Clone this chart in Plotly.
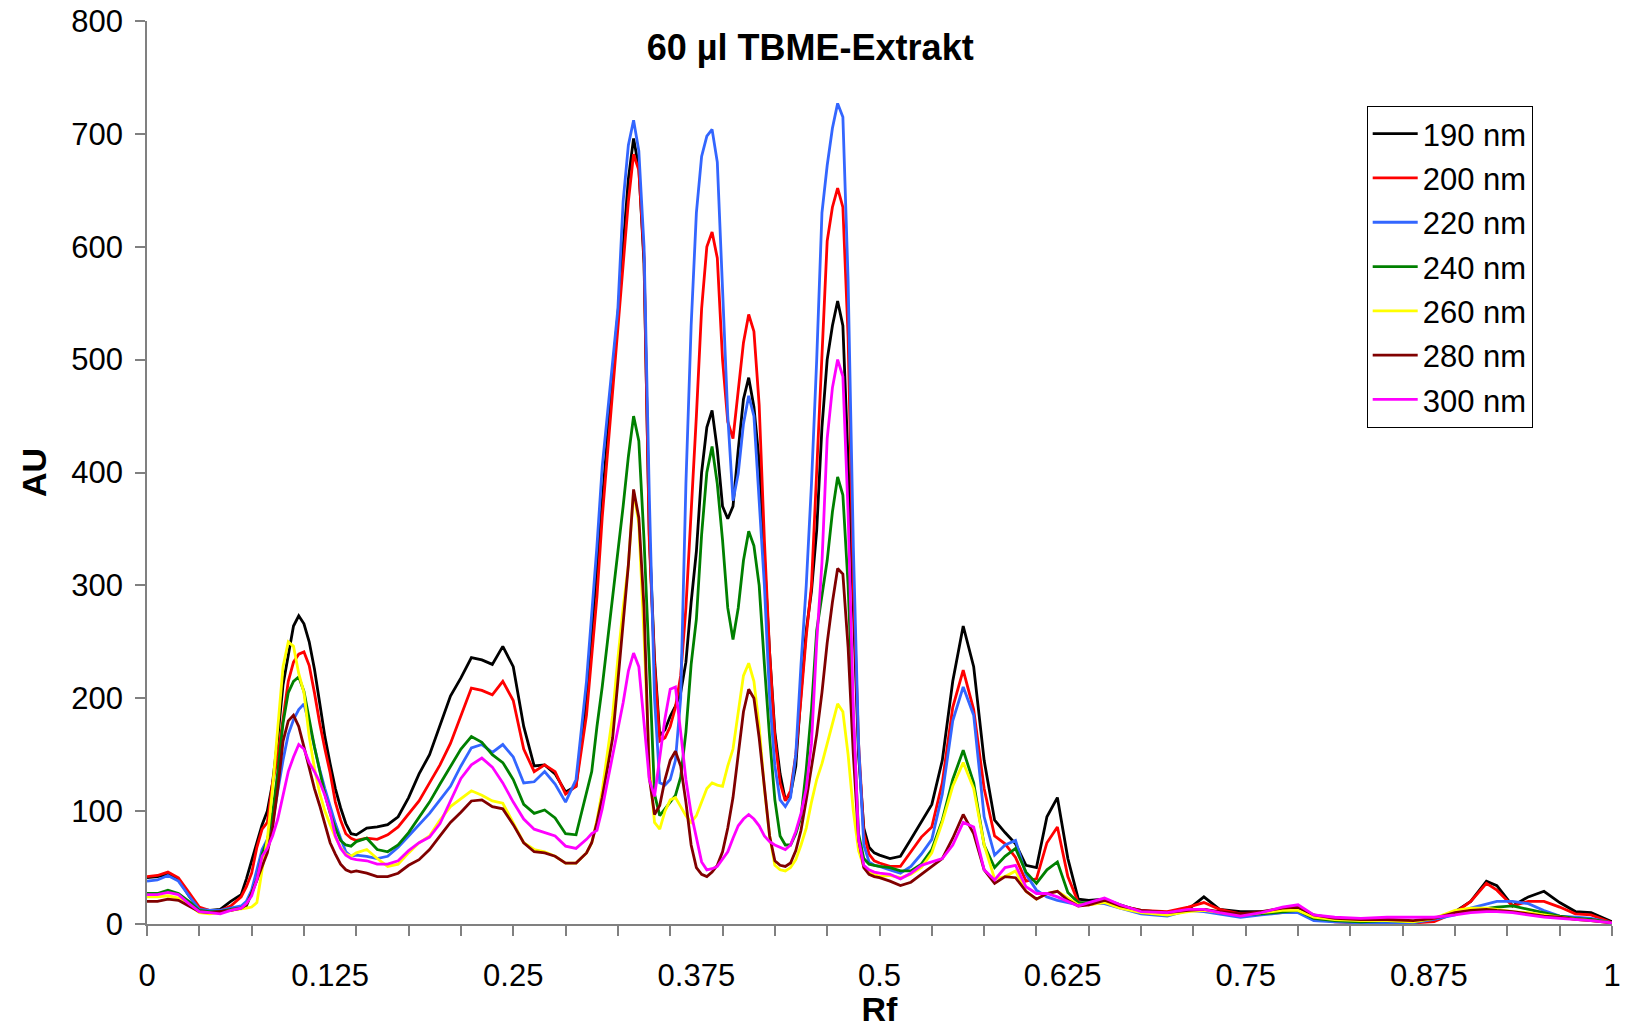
import plotly.graph_objects as go

# Scan point index along the track (281 scan points, 0..280 -> Rf 0..1)
scan_idx = ([0, 2, 4, 6, 8, 10, 12, 14, 16, 18]
            + list(range(19, 41))
            + list(range(42, 85, 2))
            + list(range(85, 141))
            + list(range(142, 181, 2))
            + [183, 186, 190, 195, 199, 202, 205, 209, 213, 217, 220, 223, 227, 232,
               237, 242, 246, 250, 253, 256, 258, 261, 264, 267, 270, 273, 276, 280])
rf = [i / 280 for i in scan_idx]

au_190 = ([41, 42, 44, 40, 25, 13, 12, 13, 20, 26]
          + [40, 55, 72, 88, 100, 125, 165, 212, 240, 264, 273, 266, 250, 226, 196, 166, 142, 120, 103, 89, 80, 79]
          + [85, 86, 88, 95, 112, 133, 150, 177, 202, 218, 236, 234, 230, 246, 228, 175, 140, 141, 133, 117, 122, 200]
          + [258, 315, 380, 430, 490, 540, 600, 660, 696, 670, 585, 345, 235, 167, 172, 184, 193, 205, 232, 285,
             330, 400, 440, 455, 420, 370, 359, 370, 420, 465, 484, 458, 410, 320, 240, 170, 133, 110, 115, 140,
             205, 260, 295, 349, 440, 500, 530, 552, 530, 410, 287, 150, 85, 68, 63, 61]
          + [58, 60, 75, 90, 106, 145, 215, 264, 228, 145, 92, 81, 71, 52, 50, 95, 112, 58, 22, 21]
          + [22, 17, 11, 10, 13, 24, 13, 11, 11, 12, 14, 6, 3, 2, 4, 2, 4, 11, 20, 38, 34, 16, 24, 29, 19, 11, 10, 2])

au_200 = ([42, 43, 46, 41, 28, 15, 12, 12, 16, 24]
          + [33, 45, 68, 84, 90, 125, 148, 184, 215, 232, 239, 241, 229, 205, 178, 155, 134, 108, 92, 80, 76, 74]
          + [76, 75, 79, 86, 97, 109, 125, 141, 160, 185, 209, 207, 203, 215, 198, 155, 135, 141, 135, 115, 122, 185]
          + [235, 290, 360, 415, 470, 525, 585, 640, 682, 668, 590, 340, 230, 162, 165, 175, 192, 220, 280, 360,
             450, 545, 600, 613, 590, 500, 445, 430, 470, 515, 540, 525, 460, 340, 240, 165, 125, 109, 118, 150,
             200, 255, 300, 400, 510, 605, 635, 652, 635, 520, 300, 160, 80, 62, 56, 54]
          + [51, 51, 64, 77, 86, 125, 192, 225, 190, 120, 78, 71, 59, 38, 40, 72, 86, 42, 19, 17]
          + [20, 16, 12, 11, 15, 19, 13, 9, 9, 10, 11, 5, 2, 1, 2, 1, 2, 10, 20, 36, 30, 16, 20, 20, 15, 9, 8, 1])

au_220 = ([38, 39, 43, 38, 25, 13, 12, 12, 14, 16]
          + [20, 30, 48, 66, 75, 90, 118, 145, 168, 181, 190, 195, 177, 157, 137, 120, 104, 89, 76, 64, 60, 61]
          + [60, 58, 60, 68, 78, 88, 98, 110, 122, 140, 156, 159, 152, 159, 148, 125, 126, 135, 124, 108, 128, 215]
          + [275, 335, 405, 450, 495, 545, 640, 690, 712, 685, 600, 380, 200, 125, 123, 128, 145, 200, 390, 530,
             630, 680, 698, 704, 675, 560, 450, 375, 399, 443, 468, 450, 380, 300, 200, 140, 110, 104, 112, 150,
             230, 300, 390, 500, 630, 672, 705, 727, 715, 570, 334, 160, 70, 55, 52, 51]
          + [48, 45, 51, 62, 75, 115, 180, 210, 185, 95, 61, 70, 74, 44, 30, 24, 21, 19, 17, 18]
          + [18, 14, 9, 7, 12, 11, 9, 6, 8, 10, 10, 3, 2, 1, 1, 1, 4, 8, 14, 18, 20, 20, 18, 12, 7, 6, 5, 1])

au_240 = ([27, 27, 30, 27, 20, 12, 11, 11, 13, 14]
          + [16, 27, 39, 62, 74, 98, 135, 178, 205, 215, 219, 206, 181, 157, 136, 115, 98, 85, 74, 70, 69, 73]
          + [76, 66, 64, 70, 81, 95, 108, 124, 140, 155, 166, 161, 150, 143, 128, 106, 98, 101, 94, 80, 79, 115]
          + [135, 175, 210, 250, 290, 325, 370, 414, 450, 428, 340, 230, 115, 96, 102, 108, 114, 130, 170, 230,
             270, 345, 400, 423, 390, 340, 280, 252, 280, 322, 348, 335, 300, 230, 165, 110, 78, 70, 70, 80,
             95, 137, 190, 260, 290, 322, 365, 396, 380, 300, 180, 80, 58, 53, 52, 51]
          + [50, 47, 47, 53, 66, 92, 128, 154, 125, 70, 50, 60, 67, 46, 36, 48, 55, 28, 19, 19]
          + [20, 15, 10, 8, 12, 13, 10, 8, 9, 11, 12, 5, 3, 2, 3, 2, 5, 10, 12, 14, 15, 16, 13, 10, 7, 5, 4, 1])

au_260 = ([24, 24, 25, 23, 17, 10, 9, 10, 12, 13]
          + [14, 15, 19, 48, 75, 120, 175, 228, 250, 246, 222, 205, 166, 138, 116, 100, 88, 77, 68, 62, 60, 63]
          + [66, 58, 51, 53, 63, 72, 78, 92, 104, 111, 118, 114, 109, 107, 89, 72, 66, 64, 60, 54, 54, 63]
          + [72, 92, 118, 150, 185, 235, 280, 318, 383, 355, 255, 140, 90, 84, 100, 110, 112, 104, 96, 90,
             96, 108, 120, 125, 123, 122, 140, 155, 190, 220, 231, 215, 175, 120, 78, 52, 48, 47, 50, 57,
             70, 85, 108, 128, 142, 160, 178, 195, 188, 150, 100, 65, 51, 46, 44, 42]
          + [43, 41, 44, 50, 63, 90, 122, 143, 120, 70, 40, 42, 47, 29, 22, 27, 29, 23, 17, 17]
          + [19, 14, 10, 8, 11, 12, 10, 8, 10, 12, 12, 6, 4, 3, 3, 2, 5, 12, 14, 14, 13, 11, 10, 8, 6, 4, 3, 1])

au_280 = ([20, 20, 22, 21, 16, 11, 10, 11, 12, 14]
          + [17, 27, 39, 52, 63, 85, 120, 162, 180, 185, 175, 157, 138, 120, 105, 88, 72, 62, 53, 48, 46, 47]
          + [45, 42, 42, 45, 52, 57, 66, 78, 90, 99, 109, 110, 104, 102, 88, 72, 64, 63, 60, 54, 54, 63]
          + [72, 90, 112, 138, 165, 215, 270, 318, 385, 360, 280, 130, 97, 105, 128, 145, 153, 140, 108, 70,
             50, 44, 42, 46, 52, 64, 85, 112, 150, 188, 208, 200, 165, 120, 78, 56, 52, 51, 54, 65,
             83, 110, 140, 168, 205, 249, 285, 315, 310, 245, 150, 75, 50, 44, 42, 41]
          + [38, 34, 37, 44, 51, 58, 76, 97, 80, 48, 36, 42, 41, 29, 22, 27, 29, 21, 16, 17]
          + [21, 16, 12, 10, 12, 13, 11, 9, 11, 14, 15, 8, 5, 4, 4, 3, 5, 10, 12, 13, 12, 11, 9, 7, 6, 4, 3, 1])

au_300 = ([26, 26, 28, 26, 18, 11, 10, 9, 12, 14]
          + [18, 25, 39, 60, 67, 78, 93, 113, 135, 148, 159, 155, 143, 135, 126, 114, 99, 78, 67, 61, 58, 57]
          + [56, 53, 53, 56, 65, 72, 77, 89, 109, 129, 141, 147, 139, 125, 108, 93, 84, 81, 78, 69, 67, 75]
          + [80, 83, 102, 126, 150, 172, 196, 224, 240, 228, 180, 128, 113, 147, 182, 208, 210, 170, 128, 98,
             75, 55, 48, 49, 51, 57, 64, 76, 87, 93, 97, 93, 87, 78, 73, 70, 68, 66, 70, 82,
             98, 120, 160, 250, 320, 430, 475, 500, 485, 364, 190, 75, 52, 48, 46, 45]
          + [44, 40, 45, 52, 55, 58, 70, 90, 86, 48, 39, 50, 52, 33, 27, 27, 24, 20, 16, 19]
          + [23, 17, 11, 10, 13, 13, 10, 7, 10, 15, 17, 8, 6, 5, 6, 6, 6, 8, 10, 11, 11, 10, 8, 6, 5, 4, 3, 1])

names = ["190 nm", "200 nm", "220 nm", "240 nm", "260 nm", "280 nm", "300 nm"]
colors = ["#000000", "#FF0000", "#3366FF", "#008000", "#FFFF00", "#800000", "#FF00FF"]
series = [au_190, au_200, au_220, au_240, au_260, au_280, au_300]

x_minor_ticks = [i / 28 for i in range(29)]
x_label_vals = [0, 0.125, 0.25, 0.375, 0.5, 0.625, 0.75, 0.875, 1]
x_label_text = ["0", "0.125", "0.25", "0.375", "0.5", "0.625", "0.75", "0.875", "1"]
y_tick_vals = [0, 100, 200, 300, 400, 500, 600, 700, 800]

for s in series:
    assert len(s) == len(rf), (len(s), len(rf))

FONT = "Arial, Liberation Sans, sans-serif"
GREY = "#808080"

fig = go.Figure()
for name, ys, col in zip(names, series, colors):
    fig.add_trace(go.Scatter(x=rf, y=ys, mode="lines", name=name, legendgroup=name,
                             line=dict(color=col, width=2.8)))
# helper trace so the label axis is drawn
fig.add_trace(go.Scatter(x=[0, 1], y=[None, None], xaxis="x2", mode="lines",
                         showlegend=False, hoverinfo="skip"))

fig.update_layout(
    width=1627, height=1028,
    margin=dict(l=147, r=15, t=21, b=104, autoexpand=False),
    paper_bgcolor="white", plot_bgcolor="white",
    font=dict(family=FONT, color="black", size=31),
    title=dict(text="<b>60 µl TBME-Extrakt</b>", font=dict(size=36, family=FONT),
               x=0.498, xref="container", xanchor="center",
               y=1 - 47 / 1028, yref="container", yanchor="middle"),
    xaxis=dict(range=[0, 1], showline=True, linecolor=GREY, linewidth=1.5,
               ticks="outside", ticklen=10, tickcolor=GREY, tickwidth=1.5,
               tickmode="array", tickvals=x_minor_ticks, showticklabels=False,
               showgrid=False, zeroline=False, automargin=False),
    xaxis2=dict(range=[0, 1], overlaying="x", anchor="y", side="bottom",
                showline=False, ticks="", tickmode="array", tickvals=x_label_vals,
                ticktext=x_label_text, tickfont=dict(size=31), ticklabelstandoff=30,
                showgrid=False, zeroline=False, automargin=False,
                title=dict(text="<b>Rf</b>", font=dict(size=34), standoff=0)),
    yaxis=dict(range=[0, 800], showline=True, linecolor=GREY, linewidth=1.5,
               ticks="outside", ticklen=10, tickcolor=GREY, tickwidth=1.5,
               tickmode="array", tickvals=y_tick_vals, tickfont=dict(size=31),
               ticklabelstandoff=6, showgrid=False, zeroline=False, automargin=False,
               title=dict(text="<b>AU</b>", font=dict(size=34), standoff=14)),
    legend=dict(x=(1366.7 - 147) / 1465, y=(924 - 106) / 903, xanchor="left", yanchor="top",
                bordercolor="#000000", borderwidth=1, bgcolor="white", itemwidth=45,
                font=dict(size=31), tracegroupgap=1),
    showlegend=True,
)

fig.write_html("out.html")
